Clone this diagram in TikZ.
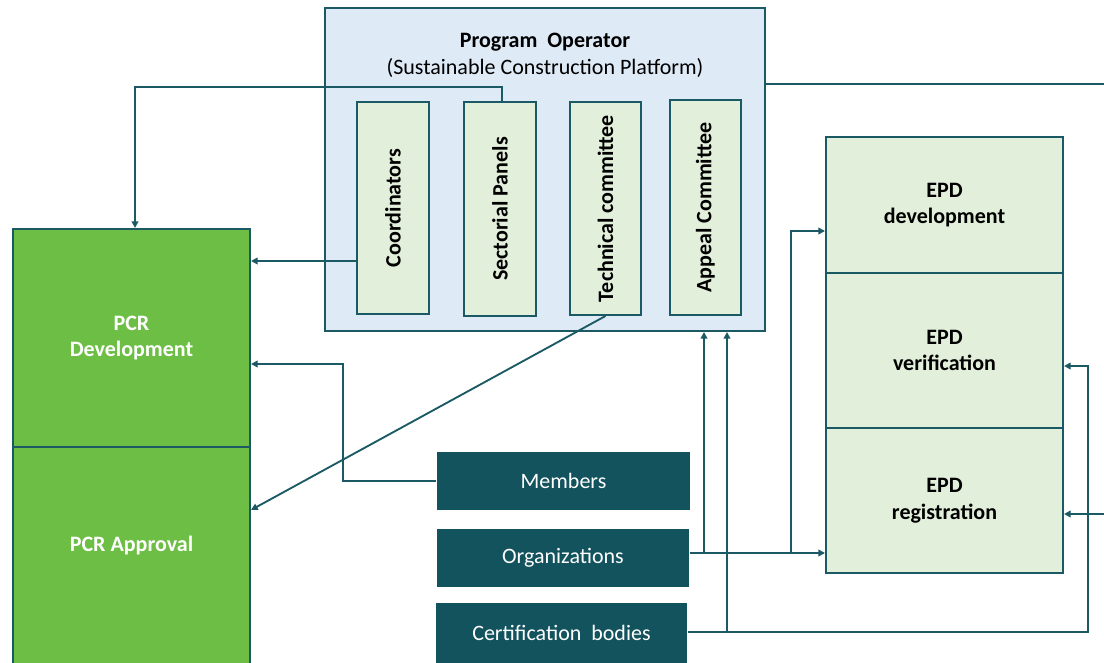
\documentclass[tikz,border=0pt]{standalone}
\usepackage{fontspec}
\setmainfont{Carlito}
\usetikzlibrary{arrows.meta}

\definecolor{lineTeal}{RGB}{27,90,100}
\definecolor{darkTeal}{RGB}{18,83,94}
\definecolor{pcrGreen}{RGB}{109,190,69}
\definecolor{paleGreen}{RGB}{226,239,218}
\definecolor{paleBlue}{RGB}{222,234,246}

\def \px {0.75pt}

\begin{document}
\begin{tikzpicture}[x=\px, y=-\px,
      >={Triangle[length=5pt,width=5pt]},
      link/.style={draw=lineTeal, line width=1.4pt},
      box/.style={draw=lineTeal, line width=1.5pt, inner sep=0pt, align=center,
         font=\fontsize{16.5}{20}\selectfont},
      panel/.style={box, fill=paleGreen, font=\fontsize{16.5}{20}\selectfont\bfseries},
      pcr/.style={box, fill=pcrGreen, text=white, font=\fontsize{16.5}{20}\selectfont\bfseries},
      actor/.style={box, draw=none, fill=darkTeal, text=white}]
   \useasboundingbox (0,0) rectangle (1104,663);

   % program operator and its bodies
   \node[box, fill=paleBlue, minimum width=440*\px, minimum height=323*\px] (po) at (545,169.5) {};
   \node[align=center, font=\fontsize{16.5}{20}\selectfont] (potitle) at (545,55.5)
      {\textbf{Program~~Operator}\\(Sustainable~Construction~Platform)};
   \node[panel, minimum width=72*\px, minimum height=212*\px] (coord) at (393,208) {\rotatebox{90}{Coordinators}};
   \node[panel, minimum width=72*\px, minimum height=214*\px] (sect) at (500,209) {\rotatebox{90}{Sectorial Panels}};
   \node[panel, minimum width=71*\px, minimum height=213*\px] (tech) at (605.5,208.5) {\rotatebox{90}{Technical committee}};
   \node[panel, minimum width=71*\px, minimum height=215*\px] (appeal) at (705.5,207.5) {\rotatebox{90}{Appeal Committee}};

   % PCR side
   \node[pcr, minimum width=237*\px, minimum height=218*\px] (pcrdev) at (131.5,338) {PCR\\Development};
   \node[pcr, minimum width=237*\px, minimum height=224*\px,
      label={[text=white, font=\fontsize{16.5}{20}\selectfont\bfseries, yshift=10pt]center:PCR Approval}]
      (pcrapp) at (131.5,559) {};

   % EPD side
   \node[panel, minimum width=237*\px, minimum height=136*\px] (epddev) at (944.5,205) {EPD\\development};
   \node[panel, minimum width=237*\px, minimum height=155*\px] (epdver) at (944.5,350.5) {EPD\\verification};
   \node[panel, minimum width=237*\px, minimum height=145*\px] (epdreg) at (944.5,500.5) {EPD\\registration};

   % actors
   \node[actor, minimum width=253*\px, minimum height=58*\px] (members) at (563.5,481) {Members};
   \node[actor, minimum width=252*\px, minimum height=58*\px] (orgs) at (563,558) {Organizations};
   \node[actor, minimum width=251*\px, minimum height=60*\px] (cert) at (561.5,633) {Certification~~bodies};

   \coordinate (rimtop) at (1110,84);
   \coordinate (rimreg) at (1110,514);

   % connectors
   \draw[link, ->] (sect.north -| 502,0) -- ++(0,-14) -| (pcrdev.north -| 135,0);
   \draw[link, ->] (coord.west |- 0,261) -- (pcrdev.east |- 0,261);
   \draw[link, ->] (members.west) -| (343,364) -- (pcrdev.east |- 0,364);
   \draw[link, ->] (tech.south) -- (pcrapp.east |- 0,510);
   \draw[link] (po.east |- rimtop) -- (rimtop);
   \draw[link, ->] (orgs.east |- 0,553) -- (epdreg.west |- 0,553);
   \draw[link, ->] (704,553) -- (po.south -| 704,0);
   \draw[link, ->] (791,553) |- (epddev.west |- 0,231);
   \draw[link, ->] (cert.east |- 0,632) -| (1088,366) -- (epdver.east |- 0,366);
   \draw[link, ->] (727,632) -- (po.south -| 727,0);
   \draw[link, ->] (rimreg) -- (epdreg.east |- rimreg);
\end{tikzpicture}
\end{document}
